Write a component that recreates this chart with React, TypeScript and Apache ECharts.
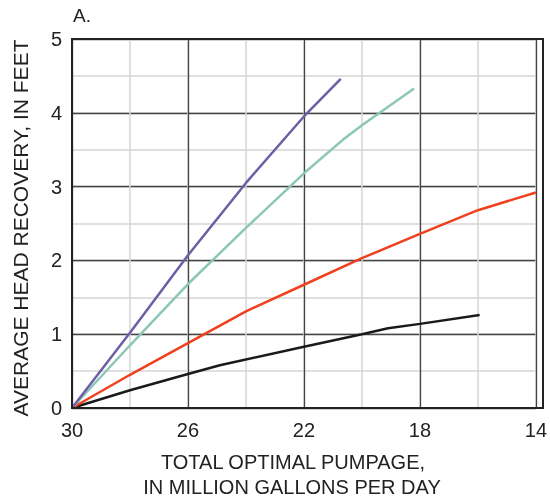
import React, { useEffect, useRef } from "react";
import * as echarts from "echarts";

const xTickLabels = ["30", "26", "22", "18", "14"];
const purpleData: [number, number][] = [[30, 0], [28, 1.02], [26, 2.07], [24, 3.05], [22, 3.95], [20.73, 4.46]];
const tealData: [number, number][] = [[30, 0], [28, 0.85], [26, 1.68], [24, 2.44], [22, 3.18], [20.67, 3.63], [20, 3.83], [18.2, 4.33]];
const redData: [number, number][] = [[30, 0], [28, 0.45], [26, 0.88], [24, 1.31], [22, 1.67], [20, 2.03], [18, 2.36], [16, 2.68], [14, 2.92]];
const blackData: [number, number][] = [[30, 0], [28, 0.24], [26, 0.46], [24.9, 0.58], [22, 0.83], [20, 1.0], [19.1, 1.08], [18, 1.14], [15.94, 1.26]];

const FONT = "Liberation Sans, Arial, Helvetica, sans-serif";

export default function App() {
  const ref = useRef<HTMLDivElement>(null);
  useEffect(() => {
    if (!ref.current) return;
    const chart = echarts.init(ref.current, undefined, { renderer: "svg" });
    const line = (data: [number, number][], color: string, width: number) => ({
      type: "line",
      data,
      xAxisIndex: 1,
      yAxisIndex: 1,
      showSymbol: false,
      symbol: "none",
      lineStyle: { color, width },
      z: 5,
    });
    chart.setOption({
      animation: false,
      grid: { left: 72, right: 7, top: 39, bottom: 89, show: false },
      xAxis: [
        {
          type: "value", position: "bottom", min: 14, max: 30, interval: 2, inverse: true,
          axisLabel: { show: false }, axisTick: { show: false }, axisLine: { show: false },
          splitLine: { show: true, lineStyle: { color: "#d6d6d6", width: 1.5 } },
        },
        {
          type: "value", position: "bottom", min: 14, max: 30, interval: 4, inverse: true,
          axisLabel: {
            show: true, fontSize: 20, color: "#222", fontFamily: FONT, margin: 12,
            formatter: (v: number) => (xTickLabels.includes(String(v)) ? String(v) : ""),
          },
          axisTick: { show: false },
          axisLine: { show: true, lineStyle: { color: "#222", width: 2 } },
          splitLine: { show: true, lineStyle: { color: "#444", width: 1.3 } },
        },
      ],
      yAxis: [
        {
          type: "value", position: "left", min: 0, max: 5, interval: 0.5,
          axisLabel: { show: false }, axisTick: { show: false }, axisLine: { show: false },
          splitLine: { show: true, lineStyle: { color: "#d6d6d6", width: 1.5 } },
        },
        {
          type: "value", position: "left", min: 0, max: 5, interval: 1,
          axisLabel: { show: true, fontSize: 20, color: "#222", fontFamily: FONT, margin: 10 },
          axisTick: { show: false },
          axisLine: { show: true, lineStyle: { color: "#222", width: 2 } },
          splitLine: { show: true, lineStyle: { color: "#444", width: 1.3 } },
        },
      ],
      graphic: [
        { type: "rect", shape: { x: 72, y: 39, width: 471, height: 369 }, style: { fill: "none", stroke: "#222", lineWidth: 2 }, z: 10, silent: true },
        { type: "text", x: 73, y: 6, style: { text: "A.", font: `19px ${FONT}`, fill: "#222" } },
        { type: "text", x: 20, y: 228, rotation: Math.PI / 2, style: { text: "AVERAGE HEAD RECOVERY, IN FEET", font: `21px ${FONT}`, fill: "#222", align: "center", verticalAlign: "middle" } },
        { type: "text", x: 293, y: 462, style: { text: "TOTAL OPTIMAL PUMPAGE,", font: `20px ${FONT}`, fill: "#222", align: "center", verticalAlign: "middle" } },
        { type: "text", x: 292, y: 487, style: { text: "IN MILLION GALLONS PER DAY", font: `20px ${FONT}`, fill: "#222", align: "center", verticalAlign: "middle" } },
      ],
      series: [
        line(blackData, "#1a1a1a", 2.5),
        line(redData, "#f0401e", 2.5),
        line(tealData, "#8cc7b5", 2.5),
        line(purpleData, "#6f5ea6", 2.5),
      ],
    });
    return () => chart.dispose();
  }, []);
  return <div ref={ref} style={{ width: 550, height: 497, position: "fixed", left: 0, top: 0 }} />;
}
